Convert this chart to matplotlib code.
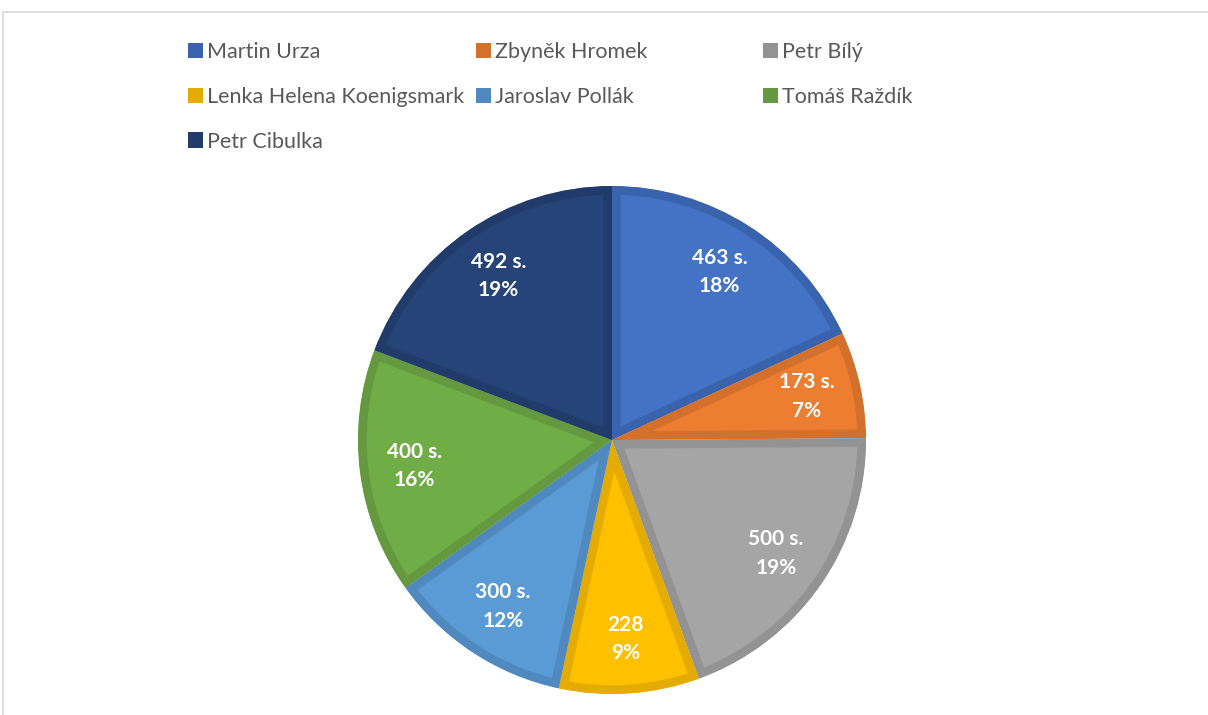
import matplotlib

matplotlib.use("Agg")

import matplotlib.pyplot as plt  # noqa: E402
import numpy as np  # noqa: E402
from matplotlib.patches import Patch, Rectangle  # noqa: E402

# data (seconds per person)
names = [
    "Martin Urza",
    "Zbyněk Hromek",
    "Petr Bílý",
    "Lenka Helena Koenigsmark",
    "Jaroslav Pollák",
    "Tomáš Raždík",
    "Petr Cibulka",
]
seconds = [463, 173, 500, 228, 300, 400, 492]
value_labels = ["463 s.", "173 s.", "500 s.", "228", "300 s.", "400 s.", "492 s."]
pct_labels = ["18%", "7%", "19%", "9%", "12%", "16%", "19%"]

fills = ["#4472C4", "#ED7D31", "#A5A5A5", "#FFC000", "#5B9BD5", "#70AD47", "#264478"]
edges = ["#3A63AD", "#D2702C", "#939393", "#E4AC00", "#4F89BF", "#64993F", "#213C6A"]

plt.rcParams["font.family"] = ["Lato", "DejaVu Sans"]

W, H = 1208, 715
fig = plt.figure(figsize=(W / 100, H / 100), dpi=100)

# light chart-area frame
fig.patches.append(Rectangle((3 / W, -0.02), 1.05, 1 - 12 / H + 0.02,
                             transform=fig.transFigure, fill=False,
                             edgecolor="#D9D9D9", linewidth=1.2))

cx, cy, r = 612, 440, 254
ax = fig.add_axes([(cx - r) / W, (H - cy - r) / H, 2 * r / W, 2 * r / H])

wedges, _ = ax.pie(seconds, colors=fills, startangle=90, counterclock=False,
                   radius=1.0, frame=False)
ax.set_xlim(-1, 1)
ax.set_ylim(-1, 1)
ax.set_aspect("equal")
ax.axis("off")

for w, ec in zip(wedges, edges):
    # stroke kept inside each slice (pie turns clipping off, so turn it back on)
    w.set_edgecolor(ec)
    w.set_linewidth(12.5)
    w.set_clip_on(True)
    w.set_clip_path(w.get_path(), ax.transData)

total = sum(seconds)
start = 90.0
for v, vl, pl in zip(seconds, value_labels, pct_labels):
    span = 360.0 * v / total
    mid = np.deg2rad(start - span / 2)
    start -= span
    ax.text(0.785 * np.cos(mid), 0.785 * np.sin(mid), f"{vl}\n{pl}",
            ha="center", va="center", color="white", fontsize=15,
            fontweight="bold", linespacing=1.55)

# legend: three equal-width columns, filled row by row
col_x = [188, 476, 763]
for c, x in enumerate(col_x):
    idx = list(range(c, len(names), 3))
    handles = [Patch(facecolor=edges[i], edgecolor="none") for i in idx]
    fig.legend(handles, [names[i] for i in idx], loc="upper left",
               bbox_to_anchor=(x / W, 1 - 42 / H), frameon=False,
               fontsize=15.5, labelcolor="#595959", handlelength=0.7,
               handleheight=0.7, handletextpad=0.2, borderpad=0,
               borderaxespad=0, labelspacing=1.15)

fig.savefig("out.png", dpi=100)
